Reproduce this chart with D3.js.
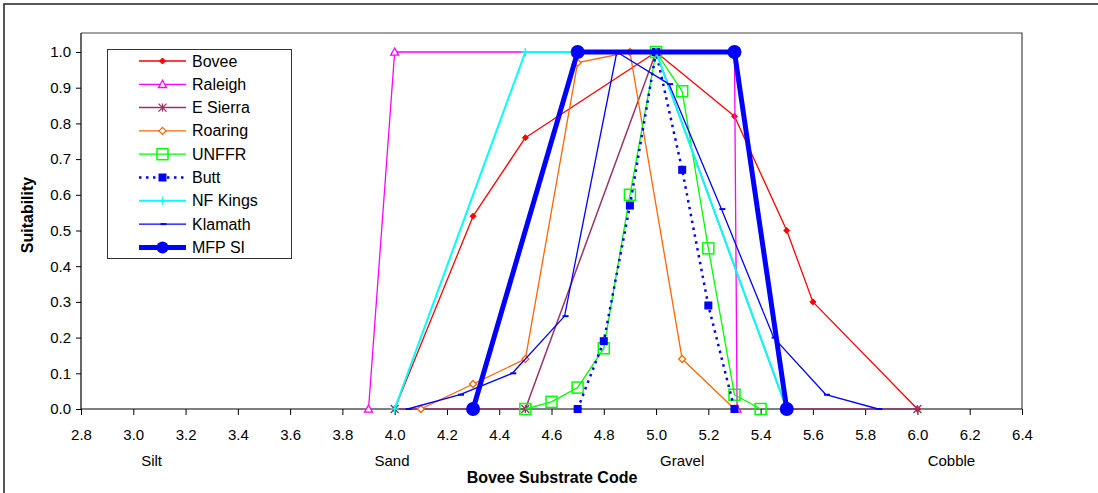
<!DOCTYPE html>
<html><head><meta charset="utf-8">
<script src="https://cdn.jsdelivr.net/npm/d3@7"></script>
<style>
html,body{margin:0;padding:0;background:#fff;}
svg{display:block;font-family:"Liberation Sans",Arial,sans-serif;}
</style></head>
<body><svg id="c" width="1098" height="493"></svg>
<script>
// ---- data ----
const seriesNames = ["Bovee","Raleigh","E Sierra","Roaring","UNFFR","Butt","NF Kings","Klamath","MFP SI"];
const boveeX = [4.0,4.3,4.5,5.0,5.3,5.5,5.6,6.0];
const boveeY = [0,0.54,0.76,1.0,0.82,0.5,0.3,0];
const raleighX = [3.9,4.0,5.3,5.31];
const raleighY = [0,1.0,1.0,0];
const eSierraX = [4.0,4.5,5.0,5.5,6.0];
const eSierraY = [0,0,1.0,0,0];
const roaringX = [4.1,4.3,4.5,4.7,4.9,5.1,5.3];
const roaringY = [0,0.07,0.14,0.97,1.0,0.14,0];
const unffrX = [4.5,4.6,4.7,4.8,4.9,5.0,5.1,5.2,5.3,5.4];
const unffrY = [0,0.02,0.06,0.17,0.6,1.0,0.89,0.45,0.04,0];
const buttX = [4.7,4.8,4.9,5.0,5.1,5.2,5.3];
const buttY = [0,0.19,0.57,1.0,0.67,0.29,0];
const nfKingsX = [4.0,4.5,5.0,5.5];
const nfKingsY = [0,1.0,1.0,0];
const klamathX = [4.05,4.25,4.45,4.65,4.85,5.05,5.25,5.45,5.65,5.85];
const klamathY = [0,0.04,0.1,0.26,1.0,0.91,0.56,0.2,0.04,0];
const mfpX = [4.3,4.7,5.3,5.5];
const mfpY = [0,1.0,1.0,0];
const xTicks = [2.8,3.0,3.2,3.4,3.6,3.8,4.0,4.2,4.4,4.6,4.8,5.0,5.2,5.4,5.6,5.8,6.0,6.2,6.4];
const yTicks = [0,0.1,0.2,0.3,0.4,0.5,0.6,0.7,0.8,0.9,1.0];
const substrateLabels = ["Silt","Sand","Gravel","Cobble"];
const substrateAt = [3.07,3.99,5.1,6.13];
const xTitle = "Bovee Substrate Code";
const yTitle = "Suitability";

// ---- styles ----
const styles = [
  {color:"#FF0000", w:1.3, marker:"diamondFill", ms:6},
  {color:"#FF00FF", w:1.3, marker:"triangle", ms:8},
  {color:"#993366", w:1.5, marker:"star", ms:8},
  {color:"#FF6600", w:1.3, marker:"diamond", ms:7},
  {color:"#00FF00", w:1.3, marker:"square", ms:11},
  {color:"#0000FF", w:2.5, marker:"squareFill", ms:8, dash:"2.5,4.5"},
  {color:"#00FFFF", w:2, marker:"plus", ms:8},
  {color:"#0000FF", w:1.3, marker:"dash", ms:6},
  {color:"#0000FF", w:5, marker:"circle", ms:14}
];
const seriesData = [
  [boveeX,boveeY],[raleighX,raleighY],[eSierraX,eSierraY],[roaringX,roaringY],
  [unffrX,unffrY],[buttX,buttY],[nfKingsX,nfKingsY],[klamathX,klamathY],[mfpX,mfpY]
];

const svg = d3.select("#c");
const x = d3.scaleLinear().domain([2.8,6.4]).range([81,1022]);
const y = d3.scaleLinear().domain([0,1]).range([409,52]);
const plotTop = 33;

// outer frame (top/left visible)
svg.append("path").attr("d","M4,493 L4,4 L1098,4").attr("fill","none").attr("stroke","#222").attr("stroke-width",1.5);
// plot border top & right
svg.append("path").attr("d",`M81,${plotTop} L1022,${plotTop} L1022,409`).attr("fill","none").attr("stroke","#444").attr("stroke-width",1.2);

// axes
const xAxis = d3.axisBottom(x).tickValues(xTicks).tickFormat(d3.format(".1f")).tickSizeOuter(0).tickSize(6).tickPadding(14);
const gx = svg.append("g").attr("transform","translate(0,409)").call(xAxis);
const yAxis = d3.axisLeft(y).tickValues(yTicks).tickFormat(d3.format(".1f")).tickSizeOuter(0).tickSize(5).tickPadding(5);
const gy = svg.append("g").attr("transform","translate(81,0)").call(yAxis);
[gx,gy].forEach(g=>{
  g.select(".domain").remove();
  g.selectAll("line").attr("stroke","#000");
  g.selectAll("text").attr("font-size",15).attr("fill","#000").attr("font-family","Liberation Sans, Arial, sans-serif");
});
svg.append("line").attr("x1",81).attr("x2",1022).attr("y1",409).attr("y2",409).attr("stroke","#000").attr("stroke-width",1.2);
svg.append("line").attr("x1",81).attr("x2",81).attr("y1",plotTop).attr("y2",409).attr("stroke","#000").attr("stroke-width",1.2);

// substrate labels
svg.append("g").selectAll("text").data(substrateLabels).join("text")
  .attr("x",(d,i)=>x(substrateAt[i])).attr("y",466).attr("text-anchor","middle")
  .attr("font-size",15).text(d=>d);
svg.append("text").attr("x",552).attr("y",483).attr("text-anchor","middle")
  .attr("font-size",16).attr("font-weight","bold").text(xTitle);
svg.append("text").attr("transform","translate(33,215) rotate(-90)").attr("text-anchor","middle")
  .attr("font-size",16).attr("font-weight","bold").text(yTitle);

// markers
function drawMarker(g, type, cx, cy, s, color){
  const h = s/2;
  switch(type){
    case "diamondFill":
      g.append("path").attr("d",`M${cx},${cy-h} L${cx+h},${cy} L${cx},${cy+h} L${cx-h},${cy} Z`).attr("fill",color).attr("stroke",color).attr("stroke-width",1); break;
    case "diamond":
      g.append("path").attr("d",`M${cx},${cy-h} L${cx+h},${cy} L${cx},${cy+h} L${cx-h},${cy} Z`).attr("fill","#fff").attr("stroke",color).attr("stroke-width",1.3); break;
    case "triangle":
      g.append("path").attr("d",`M${cx},${cy-h} L${cx+h},${cy+h*0.8} L${cx-h},${cy+h*0.8} Z`).attr("fill","#fff").attr("stroke",color).attr("stroke-width",1.3); break;
    case "square":
      g.append("rect").attr("x",cx-h).attr("y",cy-h).attr("width",s).attr("height",s).attr("fill","none").attr("stroke",color).attr("stroke-width",1.5); break;
    case "squareFill":
      g.append("rect").attr("x",cx-h).attr("y",cy-h).attr("width",s).attr("height",s).attr("fill",color); break;
    case "plus":
      g.append("path").attr("d",`M${cx-h},${cy} L${cx+h},${cy} M${cx},${cy-h} L${cx},${cy+h}`).attr("stroke",color).attr("stroke-width",1.3); break;
    case "star":
      g.append("path").attr("d",`M${cx-h},${cy-h} L${cx+h},${cy+h} M${cx-h},${cy+h} L${cx+h},${cy-h} M${cx},${cy-h} L${cx},${cy+h}`).attr("stroke",color).attr("stroke-width",1.3); break;
    case "dash":
      g.append("path").attr("d",`M${cx-h+1},${cy} L${cx+h+1},${cy}`).attr("stroke",color).attr("stroke-width",2); break;
    case "circle":
      g.append("circle").attr("cx",cx).attr("cy",cy).attr("r",h).attr("fill",color); break;
  }
}

const line = d3.line().x(d=>x(d[0])).y(d=>y(d[1]));
seriesData.forEach((sd,i)=>{
  const st = styles[i];
  const pts = sd[0].map((v,j)=>[v, sd[1][j]]);
  const g = svg.append("g");
  g.append("path").attr("d",line(pts)).attr("fill","none").attr("stroke",st.color)
    .attr("stroke-width",st.w).attr("stroke-dasharray",st.dash||null).attr("stroke-linejoin","round");
  pts.forEach(p=>drawMarker(g, st.marker, x(p[0]), y(p[1]), st.ms, st.color));
});

// legend
const lg = svg.append("g");
lg.append("rect").attr("x",107.5).attr("y",49.5).attr("width",184).attr("height",209).attr("fill","#fff").attr("stroke","#333").attr("stroke-width",1);
seriesNames.forEach((name,i)=>{
  const st = styles[i];
  const cy = 61 + i*23.3;
  lg.append("line").attr("x1",139).attr("x2",186).attr("y1",cy).attr("y2",cy).attr("stroke",st.color)
    .attr("stroke-width",st.w).attr("stroke-dasharray",st.dash||null);
  drawMarker(lg, st.marker, 162.5, cy, i===8?12:st.ms, st.color);
  lg.append("text").attr("x",192).attr("y",cy+5.5).attr("font-size",16).text(name);
});
</script></body></html>
